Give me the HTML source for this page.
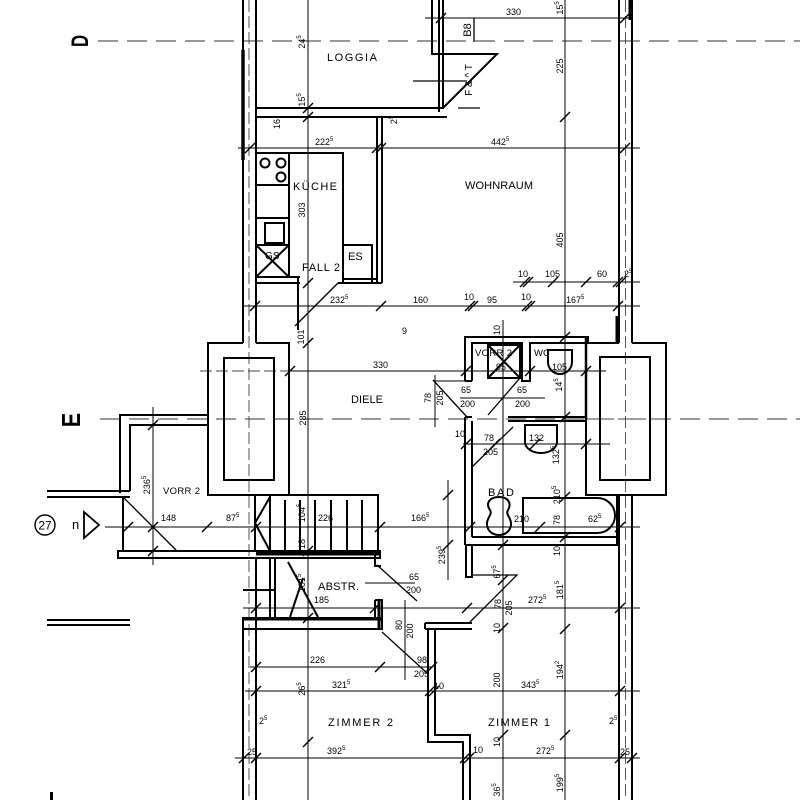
<!DOCTYPE html>
<html><head><meta charset="utf-8"><style>
html,body{margin:0;padding:0;background:#fff}
svg{display:block}
text{font-family:"Liberation Sans",sans-serif;fill:#000}
.r{font-size:11px}
.d{font-size:9px}
</style></head><body>
<svg width="800" height="800" viewBox="0 0 800 800" xmlns="http://www.w3.org/2000/svg">
<defs><path id="t" d="M-5,5L5,-5" stroke="#000" stroke-width="1.4" fill="none"/></defs>
<rect width="800" height="800" fill="#fff"/>

<!-- axis lines -->
<g stroke="#333" stroke-width="1.1" stroke-dasharray="20 9" fill="none">
<line x1="98" y1="41" x2="800" y2="41"/>
<line x1="100" y1="419" x2="800" y2="419"/>
</g>
<g stroke="#444" stroke-width="0.9" stroke-dasharray="12 4" fill="none">
<line x1="249" y1="0" x2="249" y2="800"/>
<line x1="625.5" y1="0" x2="625.5" y2="800"/>
<line x1="200" y1="371" x2="290" y2="371"/>
<line x1="586" y1="419" x2="666" y2="419"/>
</g>

<!-- walls -->
<g stroke="#000" stroke-width="2" fill="none">
<path d="M243,0V343 M256,0V343"/>
<path d="M243,343H208V495H289V343H256"/>
<rect x="224" y="358" width="50" height="122"/>
<path d="M243,618V800 M256,618V800 M243,618H256"/>
<path d="M619,0V343 M632,0V343"/>
<path d="M619,343H586V495H666V343H632"/>
<rect x="600" y="357" width="50" height="123"/>
<path d="M619,495V800 M632,495V800"/>
<path d="M256,108H443V0 M256,117H447 M439,0V112 M432,0V54H497L443,108"/>
<path d="M377,117V283 M382,117V283 M338,283H382 M343,279H377"/>
<path d="M256,153H343V283 M289,153V277 M256,185H289 M256,218H289 M256,245H289"/>
<rect x="343" y="245" width="29" height="38"/>
<rect x="256" y="245" width="33" height="32"/>
<path d="M256,245L289,277 M289,245L256,277"/>
<rect x="265" y="223" width="19" height="20"/>
<circle cx="265" cy="163" r="4.5"/><circle cx="281" cy="163" r="4.5"/><circle cx="281" cy="177" r="4.5"/>
<path d="M256,277H300 M256,283H300 M298,277V330"/>
<path d="M208,415H120V493 M208,425H130V491 M47,491H130 M47,497H130 M123,497V551"/>
<path d="M47,620H130 M47,625H130"/>
<rect x="118" y="551" width="262" height="7"/>
<path d="M255,495H378V551 M255,495V551 M270,495V551 M285,500V551 M300,500V551 M315,500V551 M331,500V551 M347,500V551 M362,500V551"/>
<path d="M270,497L255,523L270,551"/>
<path d="M256,558V618 M270,558V618 M275,558V618 M243,590H275 M288,562L318,617 M290,617L303,578"/>
<rect x="243" y="618" width="139" height="11"/>
<path d="M375,600H382V630 M375,600V618 M375,553V566H381"/>
<path d="M465,381V337H588V343 M472,381V343H522V381H530V343H586"/>
<path d="M465,381H472"/>
<rect x="488" y="345" width="32" height="33"/>
<path d="M488,345L520,378 M520,345L488,378"/>
<path d="M508,417H586 M508,421H586"/>
<path d="M465,417V545 M472,421V537 M465,417H472"/>
<path d="M472,537H617 M465,545H620 M617,495V545"/>
<path d="M548,350H572V362A12,12 0 0 1 548,362Z"/>
<path d="M525,425H557V442A16,11 0 0 1 525,442Z"/>
<path d="M523,498H597.5A17.5,17.5 0 0 1 597.5,533H523Z"/>
<path d="M499,497C490,497 485,503 490,510C493,515 486,518 487,525C488,533 495,535 499,535C503,535 510,533 511,525C512,518 505,515 508,510C512,503 508,497 499,497Z"/>
<path d="M466,545V577H472V545"/>
<path d="M425,623H472 M425,629H472 M425,623V629 M428,629V742H463V800 M435,629V735H470V800"/>
</g>
<g stroke="#000" fill="none">
<line x1="243" y1="50" x2="243" y2="160" stroke-width="3.5"/>
<line x1="256" y1="553" x2="380" y2="553" stroke-width="5"/>
<line x1="243" y1="619" x2="382" y2="619" stroke-width="3"/>
<line x1="379" y1="600" x2="379" y2="630" stroke-width="3"/>
<line x1="630" y1="0" x2="630" y2="20" stroke-width="3"/>
<line x1="617" y1="316" x2="617" y2="343" stroke-width="3"/>
<line x1="586" y1="337" x2="586" y2="420" stroke-width="2.5"/>
<line x1="586" y1="495" x2="619" y2="495" stroke-width="2"/>
</g>

<g stroke="#000" stroke-width="1.3" fill="none">
<path d="M338,283L295,326"/>
<path d="M433,380L467,417"/>
<path d="M488,415L520,378"/>
<path d="M472,467L513,427"/>
<path d="M123,497L177,551"/>
<path d="M377,565L417,601"/>
<path d="M382,632L427,673"/>
<path d="M472,575H517L470,622"/>
<path d="M413,81H467 M458,108H480 M474,18V42"/>
</g>

<g stroke="#000" stroke-width="1" fill="none">
<path d="M425,18H632 M238,148H640 M513,282H640 M243,306H640 M290,371H606 M433,381H470 M460,398H545 M463,444H610 M105,527H640 M243,608H640 M365,583H415 M250,667H432 M245,691H640 M235,758H640"/>
<path d="M308,0V800 M565,0V800 M503,320V800 M448,480V580 M153,407V565 M405,600V680 M435,375V427"/>
</g>
<g>
<use href="#t" x="441" y="18"/><use href="#t" x="625" y="18"/>
<use href="#t" x="250" y="148"/><use href="#t" x="377" y="148"/><use href="#t" x="381" y="148"/><use href="#t" x="625" y="148"/>
<use href="#t" x="525" y="282"/><use href="#t" x="528" y="282"/><use href="#t" x="553" y="282"/><use href="#t" x="586" y="282"/><use href="#t" x="618" y="282"/><use href="#t" x="621" y="282"/>
<use href="#t" x="255" y="306"/><use href="#t" x="381" y="306"/><use href="#t" x="470" y="306"/><use href="#t" x="473" y="306"/><use href="#t" x="527" y="306"/><use href="#t" x="530" y="306"/><use href="#t" x="618" y="306"/>
<use href="#t" x="290" y="371"/><use href="#t" x="466" y="371"/><use href="#t" x="530" y="371"/><use href="#t" x="586" y="371"/>
<use href="#t" x="466" y="444"/><use href="#t" x="495" y="444"/><use href="#t" x="535" y="444"/><use href="#t" x="586" y="444"/>
<use href="#t" x="128" y="527"/><use href="#t" x="153" y="527"/><use href="#t" x="207" y="527"/><use href="#t" x="256" y="527"/><use href="#t" x="380" y="527"/><use href="#t" x="470" y="527"/><use href="#t" x="540" y="527"/><use href="#t" x="620" y="527"/>
<use href="#t" x="256" y="608"/><use href="#t" x="375" y="608"/><use href="#t" x="467" y="608"/><use href="#t" x="620" y="608"/>
<use href="#t" x="256" y="667"/><use href="#t" x="380" y="667"/><use href="#t" x="432" y="667"/>
<use href="#t" x="256" y="691"/><use href="#t" x="430" y="691"/><use href="#t" x="434" y="691"/><use href="#t" x="620" y="691"/>
<use href="#t" x="244" y="758"/><use href="#t" x="256" y="758"/><use href="#t" x="465" y="758"/><use href="#t" x="469" y="758"/><use href="#t" x="620" y="758"/><use href="#t" x="632" y="758"/>
<use href="#t" x="308" y="108"/><use href="#t" x="308" y="117"/><use href="#t" x="308" y="283"/><use href="#t" x="308" y="343"/><use href="#t" x="308" y="551"/><use href="#t" x="308" y="618"/><use href="#t" x="308" y="742"/>
<use href="#t" x="565" y="117"/><use href="#t" x="565" y="337"/><use href="#t" x="565" y="417"/><use href="#t" x="565" y="497"/><use href="#t" x="565" y="537"/><use href="#t" x="565" y="629"/><use href="#t" x="565" y="735"/>
<use href="#t" x="503" y="545"/><use href="#t" x="503" y="580"/><use href="#t" x="503" y="628"/><use href="#t" x="503" y="735"/>
<use href="#t" x="448" y="495"/><use href="#t" x="448" y="545"/>
<use href="#t" x="153" y="425"/><use href="#t" x="153" y="551"/>
</g>

<text font-size="16" font-weight="bold" transform="translate(88,41) rotate(-90) scale(1.05,1.5)" text-anchor="middle">D</text>
<text font-size="16" font-weight="bold" transform="translate(80,420) rotate(-90) scale(1.35,1.6)" text-anchor="middle">E</text>
<circle cx="45" cy="525" r="10" fill="none" stroke="#000" stroke-width="1.4"/>
<text x="45" y="529.5" font-size="12" text-anchor="middle">27</text>
<text x="72" y="529" font-size="13">n</text>
<path d="M84,512V538L99,525Z" fill="none" stroke="#000" stroke-width="1.8"/>

<g class="r">
<text x="327" y="61" textLength="50" lengthAdjust="spacing">LOGGIA</text>
<text x="293" y="190" textLength="44" lengthAdjust="spacing">KÜCHE</text>
<text x="465" y="189" textLength="68" lengthAdjust="spacing">WOHNRAUM</text>
<text x="302" y="271" textLength="38" lengthAdjust="spacing">FALL 2</text>
<text x="348" y="260">ES</text>
<text x="265" y="259" font-size="10">GS</text>
<text x="351" y="403" textLength="32" lengthAdjust="spacing">DIELE</text>
<text x="475" y="356" font-size="9.5" textLength="37" lengthAdjust="spacing">VORR 2</text>
<text x="534" y="356" font-size="9.5">WC</text>
<text x="488" y="496" textLength="26" lengthAdjust="spacing">BAD</text>
<text x="163" y="494" font-size="9.5" textLength="37" lengthAdjust="spacing">VORR 2</text>
<text x="318" y="590" textLength="41" lengthAdjust="spacing">ABSTR.</text>
<text x="328" y="726" textLength="65" lengthAdjust="spacing">ZIMMER 2</text>
<text x="488" y="726" textLength="62" lengthAdjust="spacing">ZIMMER 1</text>
</g>
<text transform="translate(472,80) rotate(-90)" font-size="10" text-anchor="middle">F &amp; ^ T</text>
<text transform="translate(471,30) rotate(-90)" font-size="11" text-anchor="middle">B8</text>

<g class="d">
<text x="506" y="15">330</text>
<text x="315" y="145">222<tspan dy="-4" font-size="6">5</tspan></text>
<text x="491" y="145">442<tspan dy="-4" font-size="6">5</tspan></text>
<text x="518" y="277">10</text><text x="545" y="277">105</text><text x="597" y="277">60</text><text x="624" y="277">2<tspan dy="-4" font-size="6">5</tspan></text>
<text x="330" y="303">232<tspan dy="-4" font-size="6">5</tspan></text>
<text x="413" y="303">160</text><text x="464" y="300">10</text><text x="487" y="303">95</text><text x="521" y="300">10</text>
<text x="566" y="303">167<tspan dy="-4" font-size="6">5</tspan></text>
<text x="373" y="368">330</text>
<text x="461" y="393">65</text><text x="460" y="407">200</text>
<text x="517" y="393">65</text><text x="515" y="407">200</text>
<text x="455" y="437">10</text><text x="484" y="441">78</text><text x="529" y="441">132</text>
<text x="483" y="455">205</text>
<text x="161" y="521">148</text>
<text x="226" y="521">87<tspan dy="-4" font-size="6">5</tspan></text>
<text x="318" y="521">226</text>
<text x="411" y="521">166<tspan dy="-4" font-size="6">5</tspan></text>
<text x="514" y="522">210</text>
<text x="588" y="522">62<tspan dy="-4" font-size="6">5</tspan></text>
<text x="409" y="580">65</text><text x="406" y="593">200</text>
<text x="314" y="603">185</text>
<text x="528" y="603">272<tspan dy="-4" font-size="6">5</tspan></text>
<text x="310" y="663">226</text>
<text x="417" y="663">98</text><text x="414" y="677">205</text>
<text x="332" y="688">321<tspan dy="-4" font-size="6">5</tspan></text>
<text x="434" y="689">10</text>
<text x="521" y="688">343<tspan dy="-4" font-size="6">5</tspan></text>
<text x="327" y="754">392<tspan dy="-4" font-size="6">5</tspan></text>
<text x="473" y="753">10</text>
<text x="536" y="754">272<tspan dy="-4" font-size="6">5</tspan></text>
<text x="259" y="724">2<tspan dy="-4" font-size="6">5</tspan></text>
<text x="609" y="724">2<tspan dy="-4" font-size="6">5</tspan></text>
<text x="247" y="755">25</text><text x="620" y="755">25</text>
<text x="402" y="334">9</text>
</g>
<g class="d" text-anchor="middle">
<text transform="translate(305,42) rotate(-90)">24<tspan dy="-4" font-size="6">5</tspan></text>
<text transform="translate(305,100) rotate(-90)">15<tspan dy="-4" font-size="6">5</tspan></text>
<text transform="translate(280,124) rotate(-90)">16</text>
<text transform="translate(305,210) rotate(-90)">303</text>
<text transform="translate(304,337) rotate(-90)">101</text>
<text transform="translate(306,418) rotate(-90)">285</text>
<text transform="translate(305,513) rotate(-90)">104<tspan dy="-4" font-size="6">5</tspan></text>
<text transform="translate(305,544) rotate(-90)">18</text>
<text transform="translate(305,583) rotate(-90)">101<tspan dy="-4" font-size="6">5</tspan></text>
<text transform="translate(305,689) rotate(-90)">26<tspan dy="-4" font-size="6">5</tspan></text>
<text transform="translate(563,8) rotate(-90)">15<tspan dy="-4" font-size="6">5</tspan></text>
<text transform="translate(563,66) rotate(-90)">225</text>
<text transform="translate(563,240) rotate(-90)">405</text>
<text transform="translate(562,385) rotate(-90)">14<tspan dy="-4" font-size="6">5</tspan></text>
<text transform="translate(559,455) rotate(-90)">132<tspan dy="-4" font-size="6">5</tspan></text>
<text transform="translate(560,520) rotate(-90)">78</text>
<text transform="translate(560,551) rotate(-90)">10</text>
<text transform="translate(563,590) rotate(-90)">181<tspan dy="-4" font-size="6">5</tspan></text>
<text transform="translate(563,670) rotate(-90)">194<tspan dy="-4" font-size="6">2</tspan></text>
<text transform="translate(563,783) rotate(-90)">199<tspan dy="-4" font-size="6">5</tspan></text>
<text transform="translate(500,572) rotate(-90)">67<tspan dy="-4" font-size="6">5</tspan></text>
<text transform="translate(501,604) rotate(-90)">78</text>
<text transform="translate(512,608) rotate(-90)">205</text>
<text transform="translate(500,628) rotate(-90)">10</text>
<text transform="translate(500,680) rotate(-90)">200</text>
<text transform="translate(500,742) rotate(-90)">10</text>
<text transform="translate(500,790) rotate(-90)">36<tspan dy="-4" font-size="6">5</tspan></text>
<text transform="translate(445,555) rotate(-90)">239<tspan dy="-4" font-size="6">5</tspan></text>
<text transform="translate(150,485) rotate(-90)">236<tspan dy="-4" font-size="6">5</tspan></text>
<text transform="translate(402,625) rotate(-90)">80</text>
<text transform="translate(413,631) rotate(-90)">200</text>
<text transform="translate(431,398) rotate(-90)">78</text>
<text transform="translate(443,398) rotate(-90)">205</text>
<text transform="translate(500,330) rotate(-90)">10</text>
<text transform="translate(560,495) rotate(-90)">210<tspan dy="-4" font-size="6">5</tspan></text>
<text transform="translate(397,120) rotate(-90)">2<tspan dy="-4" font-size="6">5</tspan></text>
</g>
<text x="496" y="370" font-size="9">95</text>
<text x="552" y="370" font-size="9">105</text>
<rect x="50" y="792" width="3" height="8" fill="#000"/>
</svg>
</body></html>
